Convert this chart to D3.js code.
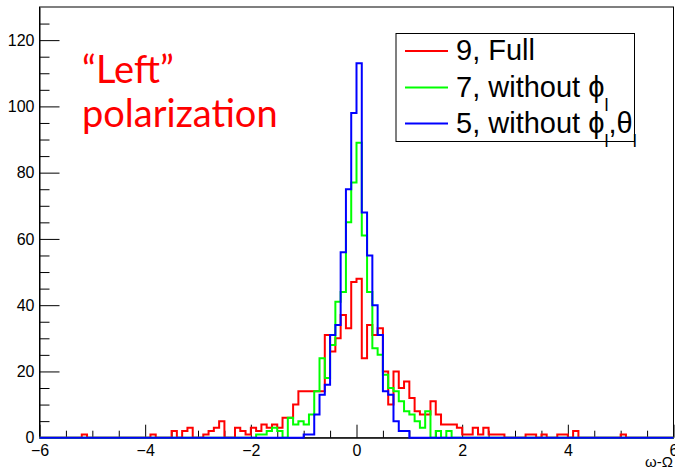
<!DOCTYPE html>
<html>
<head>
<meta charset="utf-8">
<script src="https://cdn.jsdelivr.net/npm/d3@7"></script>
<style>
  html, body { margin: 0; padding: 0; background: #fff; }
  svg { display: block; }
  .axis text { font-family: "Liberation Sans", Arial, sans-serif; font-size: 16px; fill: #000; }
  .axis path, .axis line { stroke: #000; }
</style>
</head>
<body>
<div id="chart"></div>
<script>
// histogram: 120 bins of width 0.1 from -6 to 6, one row per unit
const binLow = -6, binWidth = 0.1;

const fullCounts = [
  0, 0, 0, 0, 0, 0, 0, 0, 1, 0,        // -6 .. -5
  0, 0, 0, 0, 0, 0, 0, 0, 0, 0,        // -5 .. -4
  0, 1, 0, 0, 0, 2, 0, 2, 3, 0,        // -4 .. -3
  0, 1, 2, 3, 5, 0, 0, 3, 2, 1,        // -3 .. -2
  3, 2, 4, 3, 4, 3, 6, 6, 10, 14,      // -2 .. -1
  14, 14, 14, 14, 31, 26, 30, 37, 33, 47, // -1 .. 0
  48, 24, 34, 31, 33, 20, 10, 20, 15, 17, //  0 .. 1
  12, 8, 7, 7, 11, 7, 4, 4, 4, 3,      //  1 .. 2
  1, 1, 3, 1, 3, 1, 1, 1, 0, 0,        //  2 .. 3
  0, 0, 1, 1, 0, 1, 0, 0, 1, 1,        //  3 .. 4
  0, 2, 0, 0, 0, 0, 0, 0, 0, 0,        //  4 .. 5
  1, 0, 0, 0, 0, 0, 0, 0, 0, 0         //  5 .. 6
];

const noPhiCounts = [
  0, 0, 0, 0, 0, 0, 0, 0, 0, 0,
  0, 0, 0, 0, 0, 0, 0, 0, 0, 0,
  0, 0, 0, 0, 0, 0, 0, 0, 0, 0,
  0, 0, 0, 0, 0, 0, 0, 0, 0, 0,
  0, 1, 1, 2, 3, 2, 0, 6, 4, 5,
  4, 7, 14, 24, 18, 28, 41, 44, 65, 77,
  89, 61, 44, 27, 25, 19, 15, 14, 11, 8,
  7, 5, 3, 8, 0, 2, 0, 2, 0, 0,
  0, 0, 0, 0, 0, 0, 0, 0, 0, 0,
  0, 0, 0, 0, 0, 0, 0, 0, 0, 0,
  0, 0, 0, 0, 0, 0, 0, 0, 0, 0,
  0, 0, 0, 0, 0, 0, 0, 0, 0, 0
];

const noPhiThetaCounts = [
  0, 0, 0, 0, 0, 0, 0, 0, 0, 0,
  0, 0, 0, 0, 0, 0, 0, 0, 0, 0,
  0, 0, 0, 0, 0, 0, 0, 0, 0, 0,
  0, 0, 0, 0, 0, 0, 0, 0, 0, 0,
  0, 0, 0, 0, 0, 0, 0, 0, 0, 0,
  1, 1, 7, 13, 16, 31, 34, 56, 75, 98,
  113, 68, 55, 40, 31, 14, 13, 5, 2, 2,
  0, 0, 0, 0, 0, 0, 0, 0, 0, 0,
  0, 0, 0, 0, 0, 0, 0, 0, 0, 0,
  0, 0, 0, 0, 0, 0, 0, 0, 0, 0,
  0, 0, 0, 0, 0, 0, 0, 0, 0, 0,
  0, 0, 0, 0, 0, 0, 0, 0, 0, 0
];

const seriesNames = ["full", "noPhi", "noPhiTheta"];
const seriesColors = ["#ff0000", "#00ff00", "#0000ff"];
const xTicks = [-6, -4, -2, 0, 2, 4, 6];
const yTicks = [0, 20, 40, 60, 80, 100, 120];
const xDomain = [-6, 6];
const yDomain = [0, 130];

const W = 675, H = 474;
const margin = { top: 7, right: 1.5, bottom: 36.3, left: 39.5 };
const width = W - margin.left - margin.right;
const height = H - margin.top - margin.bottom;

const svg = d3.select("#chart").append("svg")
  .attr("width", W)
  .attr("height", H);

const g = svg.append("g")
  .attr("transform", `translate(${margin.left},${margin.top})`);

const x = d3.scaleLinear().domain(xDomain).range([0, width]);
const y = d3.scaleLinear().domain(yDomain).range([height, 0]);

const fmt = (d) => (d < 0 ? "\u2212" + Math.abs(d) : String(d));

/* ---------- minor ticks ---------- */
const xMinor = d3.range(-6, 6.001, 0.5).filter((v) => Math.abs(v % 2) > 1e-6);
const yMinor = d3.range(0, 130, 5).filter((v) => v % 20 !== 0);

g.append("g")
  .attr("class", "axis")
  .attr("transform", `translate(0,${height})`)
  .call(d3.axisBottom(x).tickValues(xMinor).tickSizeInner(-7).tickSizeOuter(0).tickFormat(""))
  .call((s) => s.select(".domain").remove());

g.append("g")
  .attr("class", "axis")
  .call(d3.axisLeft(y).tickValues(yMinor).tickSizeInner(-10).tickSizeOuter(0).tickFormat(""))
  .call((s) => s.select(".domain").remove());

/* ---------- major axes ---------- */
g.append("g")
  .attr("class", "axis")
  .attr("transform", `translate(0,${height})`)
  .call(d3.axisBottom(x).tickValues(xTicks).tickSizeInner(-13).tickSizeOuter(0).tickPadding(7).tickFormat(fmt));

g.append("g")
  .attr("class", "axis")
  .call(d3.axisLeft(y).tickValues(yTicks).tickSizeInner(-20).tickSizeOuter(0).tickPadding(5).tickFormat(fmt));

// frame
g.append("rect")
  .attr("width", width)
  .attr("height", height)
  .attr("fill", "none")
  .attr("stroke", "#000")
  .attr("stroke-width", 1);

/* ---------- histograms ---------- */
const allCounts = [fullCounts, noPhiCounts, noPhiThetaCounts];

const stepLine = d3.line()
  .x((d) => x(d[0]))
  .y((d) => y(d[1]))
  .curve(d3.curveStepAfter);

allCounts.forEach((counts, i) => {
  const pts = counts.map((c, k) => [binLow + k * binWidth, c]);
  pts.push([binLow + counts.length * binWidth, counts[counts.length - 1]]);
  g.append("path")
    .attr("class", "hist-" + seriesNames[i])
    .attr("fill", "none")
    .attr("stroke", seriesColors[i])
    .attr("stroke-width", 2)
    .attr("d", stepLine(pts));
});

/* ---------- axis title ---------- */
svg.append("text")
  .attr("x", 673)
  .attr("y", 467)
  .attr("text-anchor", "end")
  .attr("font-family", "Liberation Sans, Arial, sans-serif")
  .attr("font-size", 15)
  .text("\u03c9-\u03a9");

/* ---------- annotation ---------- */
const note = svg.append("text")
  .attr("fill", "#ff0000")
  .attr("font-family", "Lato, 'Open Sans', sans-serif")
  .attr("font-size", 38);
note.append("tspan").attr("x", 82).attr("y", 83).text("\u201cLeft\u201d");
note.append("tspan").attr("x", 82).attr("y", 127).text("polarization");

/* ---------- legend ---------- */
const legend = svg.append("g");
legend.append("rect")
  .attr("x", 396)
  .attr("y", 33.5)
  .attr("width", 238.5)
  .attr("height", 108)
  .attr("fill", "#fff")
  .attr("stroke", "#000")
  .attr("stroke-width", 1);

const legendRows = [
  { base: "9, Full", subs: [] },
  { base: "7, without \u03d5", subs: [["l", ""]] },
  { base: "5, without \u03d5", subs: [["l", ",\u03b8"], ["l", ""]] }
];
const rowY = [51, 87.5, 123.5];

legendRows.forEach((row, i) => {
  legend.append("line")
    .attr("x1", 405).attr("x2", 448)
    .attr("y1", rowY[i]).attr("y2", rowY[i])
    .attr("stroke", seriesColors[i])
    .attr("stroke-width", 2);
  const t = legend.append("text")
    .attr("x", 456)
    .attr("y", rowY[i] + 9)
    .attr("font-family", "Liberation Sans, Arial, sans-serif")
    .attr("font-size", 29)
    .attr("fill", "#000");
  t.append("tspan").text(row.base);
  row.subs.forEach(([sub, after]) => {
    t.append("tspan").attr("dy", 14).attr("font-size", 18).text(sub);
    if (after) t.append("tspan").attr("dy", -14).text(after);
  });
});
</script>
</body>
</html>
